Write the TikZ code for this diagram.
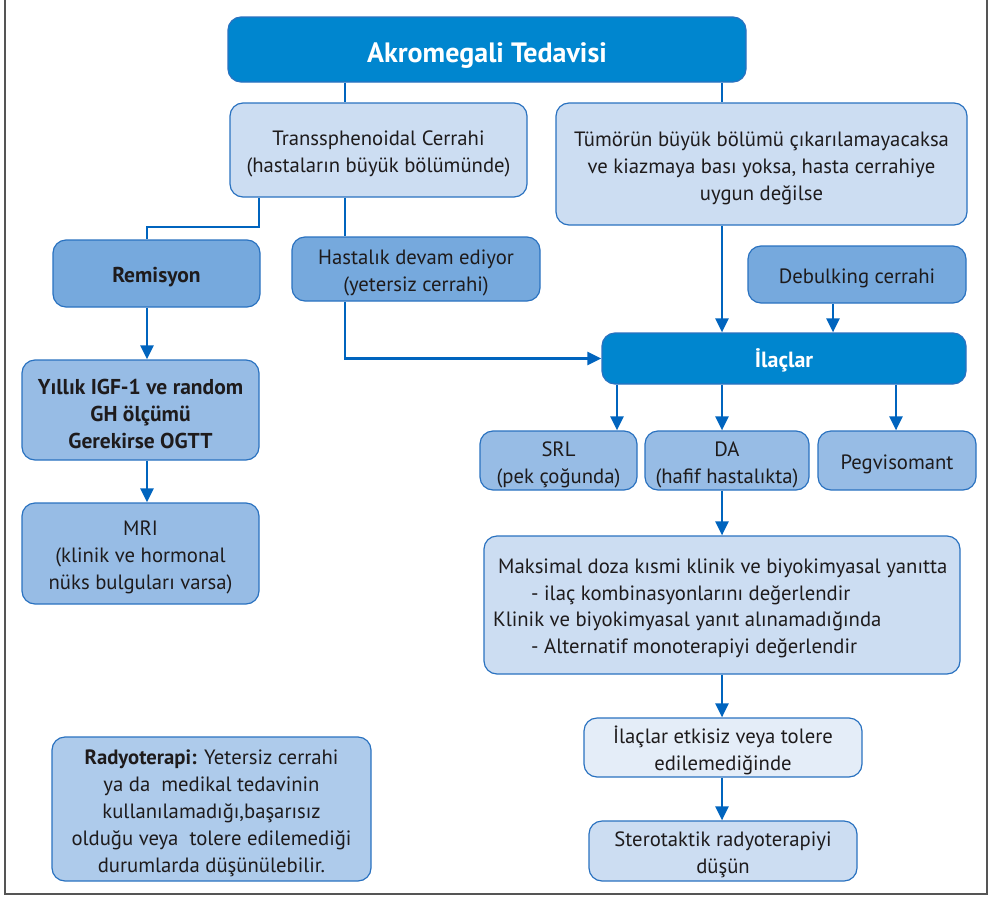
\documentclass[tikz,border=0pt]{standalone}
\usepackage{fontspec}
\setmainfont{PT Sans}
\usetikzlibrary{arrows.meta,calc}
\definecolor{dblue}{HTML}{0086CF}
\definecolor{bord}{HTML}{2A72C0}
\definecolor{conn}{HTML}{0064BE}
\definecolor{light}{HTML}{CCDDF2}
\definecolor{mid}{HTML}{76A9DD}
\definecolor{soft}{HTML}{97BCE5}
\definecolor{pale}{HTML}{E4EDF8}
\definecolor{radc}{HTML}{AECBEB}
\definecolor{txt}{HTML}{1E1B1C}
\definecolor{framec}{HTML}{555555}
\newcommand\boxtop{\rule{0pt}{23pt}}
\newcommand\titletop{\rule{0pt}{31pt}}
\tikzset{
  bx/.style={draw=bord, line width=1.2pt, rounded corners=13pt, inner sep=0pt,
    align=center, text=txt, font=\fontsize{20.7}{27}\selectfont},
  bxb/.style={bx, font=\fontsize{21.5}{27}\selectfont\bfseries},
  hdr/.style={bx, fill=dblue, text=white},
  cn/.style={draw=conn, line width=2.6pt},
  ca/.style={cn, -{Triangle[width=13pt,length=14pt]}},
  mline/.style={anchor=base west, inner sep=0pt, text=txt, font=\fontsize{20.7}{27}\selectfont}
}
\begin{document}
\begin{tikzpicture}[x=1pt,y=-1pt]
\useasboundingbox (0,0) rectangle (993,897);
% outer frame
\draw[framec, line width=1.8pt] (5,-3) -- (5,894) -- (987,894) -- (987,-3);

% helper x coordinates
\coordinate (cA) at (345,0);
\coordinate (cB) at (722,0);
\coordinate (cC) at (259,0);
\coordinate (cE) at (147,0);
\coordinate (cF) at (833,0);
\coordinate (cG) at (617,0);
\coordinate (cH) at (896,0);
\coordinate (yel) at (0,227);

% nodes
\node[hdr, minimum width=518pt, minimum height=65pt, font=\fontsize{28}{30}\selectfont\bfseries] (title) at (487,49.5) {\titletop Akromegali Tedavisi};
\node[bx, fill=light, minimum width=297pt, minimum height=94pt] (trans) at (378.5,150) {\boxtop Transsphenoidal Cerrahi\\(hastaların büyük bölümünde)};
\node[bx, fill=light, minimum width=411pt, minimum height=122pt] (tumor) at (761.5,164) {\boxtop Tümörün büyük bölümü çıkarılamayacaksa\\ve kiazmaya bası yoksa, hasta cerrahiye\\uygun değilse};
\node[bxb, fill=mid, minimum width=207pt, minimum height=67pt] (remis) at (156.5,273.5) {\boxtop Remisyon};
\node[bx, fill=mid, minimum width=248pt, minimum height=64pt] (hast) at (416,269) {\boxtop Hastalık devam ediyor\\(yetersiz cerrahi)};
\node[bx, fill=mid, minimum width=218pt, minimum height=57pt] (debulk) at (857,274.5) {\boxtop Debulking cerrahi};
\node[hdr, minimum width=364pt, minimum height=51pt, font=\fontsize{22}{27}\selectfont\bfseries] (ilac) at (784,358.5) {\boxtop İlaçlar};
\node[bxb, fill=soft, minimum width=237pt, minimum height=100pt] (yillik) at (140.5,410) {\boxtop Yıllık IGF-1 ve random\\GH ölçümü\\Gerekirse OGTT};
\node[bx, fill=soft, minimum width=237pt, minimum height=101pt] (mri) at (140.5,553.5) {\boxtop MRI\\(klinik ve hormonal\\nüks bulguları varsa)};
\node[bx, fill=soft, minimum width=157pt, minimum height=59pt] (srl) at (558.5,460.5) {\boxtop SRL\\(pek çoğunda)};
\node[bx, fill=soft, minimum width=164pt, minimum height=59pt] (da) at (727,460.5) {\boxtop DA\\(hafif hastalıkta)};
\node[bx, fill=soft, minimum width=158pt, minimum height=59pt] (peg) at (897,460.5) {\boxtop Pegvisomant};
\node[bx, fill=light, minimum width=476pt, minimum height=138pt] (maks) at (722,605) {};
\node[mline] (m1) at (498,573) {Maksimal doza kısmi klinik ve biyokimyasal yanıtta};
\node[mline] (m2) at (531,600) {- ilaç kombinasyonlarını değerlendir};
\node[mline] (m3) at (493,626) {Klinik ve biyokimyasal yanıt alınamadığında};
\node[mline] (m4) at (531,653) {- Alternatif monoterapiyi değerlendir};
\node[bx, fill=pale, minimum width=278pt, minimum height=59pt] (etk) at (723,747.5) {\boxtop İlaçlar etkisiz veya tolere\\edilemediğinde};
\node[bx, fill=light, minimum width=268pt, minimum height=60pt] (stero) at (723,851) {\boxtop Sterotaktik radyoterapiyi\\düşün};
\node[bx, fill=radc, minimum width=319pt, minimum height=144pt] (radyo) at (211.5,809) {\boxtop\textbf{Radyoterapi:} Yetersiz cerrahi\\ya da\ \ medikal tedavinin\\kullanılamadığı,başarısız\\olduğu veya\ \ tolere edilemediği\\durumlarda düşünülebilir.};

% connectors
\draw[cn] (title.south -| cA) -- (trans.north -| cA);
\draw[cn] (title.south -| cB) -- (tumor.north -| cB);
\draw[cn] (trans.south -| cC) |- (cE |- yel) -- (remis.north -| cE);
\draw[cn] (trans.south -| cA) -- (hast.north -| cA);
\draw[ca] (hast.south -| cA) |- (ilac.west);
\draw[ca] (tumor.south -| cB) -- (ilac.north -| cB);
\draw[ca] (debulk.south -| cF) -- (ilac.north -| cF);
\draw[ca] (remis.south -| cE) -- (yillik.north -| cE);
\draw[ca] (yillik.south -| cE) -- (mri.north -| cE);
\draw[ca] (ilac.south -| cG) -- (srl.north -| cG);
\draw[ca] (ilac.south -| cB) -- (da.north -| cB);
\draw[ca] (ilac.south -| cH) -- (peg.north -| cH);
\draw[ca] (da.south -| cB) -- (maks.north -| cB);
\draw[ca] (maks.south -| cB) -- (etk.north -| cB);
\draw[ca] (etk.south -| cB) -- (stero.north -| cB);
\end{tikzpicture}
\end{document}
